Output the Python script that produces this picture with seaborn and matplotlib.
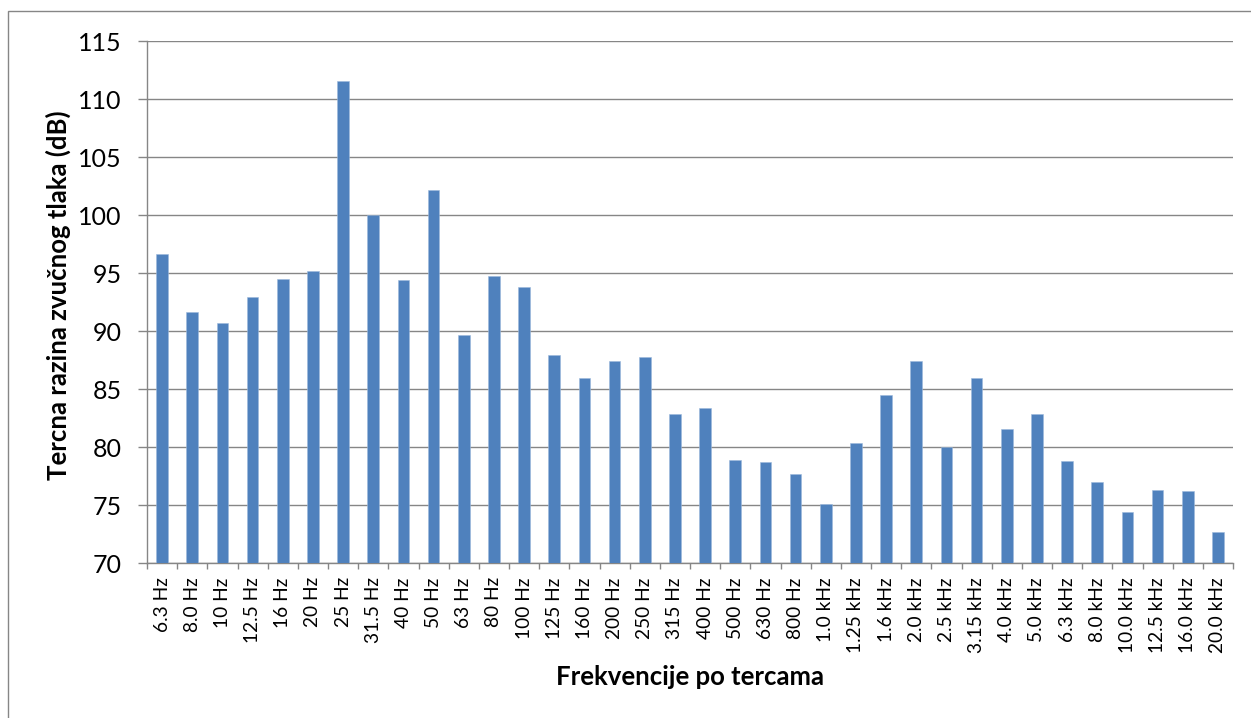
import matplotlib
matplotlib.use("Agg")
import matplotlib.pyplot as plt
import matplotlib.patches as mpatches
import seaborn as sns
import pandas as pd

categories = ["6.3 Hz", "8.0 Hz", "10 Hz", "12.5 Hz", "16 Hz", "20 Hz", "25 Hz", "31.5 Hz",
              "40 Hz", "50 Hz", "63 Hz", "80 Hz", "100 Hz", "125 Hz", "160 Hz", "200 Hz",
              "250 Hz", "315 Hz", "400 Hz", "500 Hz", "630 Hz", "800 Hz", "1.0 kHz", "1.25 kHz",
              "1.6 kHz", "2.0 kHz", "2.5 kHz", "3.15 kHz", "4.0 kHz", "5.0 kHz", "6.3 kHz",
              "8.0 kHz", "10.0 kHz", "12.5 kHz", "16.0 kHz", "20.0 kHz"]
levels = [96.7, 91.7, 90.7, 93.0, 94.5, 95.2, 111.6, 100.0,
          94.4, 102.2, 89.7, 94.8, 93.8, 88.0, 86.0, 87.4,
          87.8, 82.9, 83.4, 78.9, 78.7, 77.7, 75.1, 80.4,
          84.5, 87.4, 80.0, 86.0, 81.6, 82.9, 78.8,
          77.0, 74.4, 76.3, 76.2, 72.7]
y_ticks = [70, 75, 80, 85, 90, 95, 100, 105, 110, 115]
x_title = "Frekvencije po tercama"
y_title = "Tercna razina zvučnog tlaka (dB)"

df = pd.DataFrame({"freq": categories, "level": levels})

sns.set_theme(style="white")
plt.rcParams["font.family"] = ["Lato", "DejaVu Sans"]

W, H = 1251, 718
fig = plt.figure(figsize=(W / 100, H / 100), dpi=100)
ax = fig.add_axes([147 / W, 1 - 563.3 / H, (1233 - 147) / W, (563.3 - 41.3) / H])

sns.barplot(data=df, x="freq", y="level", color="#4F81BD", saturation=1,
            width=0.39, edgecolor="#9DB9DC", linewidth=0.4, ax=ax, zorder=3)

ax.set_ylim(70, 115)
ax.set_xlim(-0.5, len(categories) - 0.5)
ax.set_yticks(y_ticks)
ax.set_yticklabels([str(v) for v in y_ticks])
ax.yaxis.grid(True, color="#868686", linewidth=1.0, zorder=0)
ax.xaxis.grid(False)
ax.set_axisbelow(True)

for s in ["top", "right"]:
    ax.spines[s].set_visible(False)
for s in ["left", "bottom"]:
    ax.spines[s].set_color("#868686")
    ax.spines[s].set_linewidth(1.0)

ax.tick_params(axis="y", which="major", left=True, length=6.3, width=1.0,
               color="#868686", labelsize=18, pad=12, labelcolor="black")
ax.set_xticks(range(len(categories)))
ax.set_xticklabels(categories, rotation=90)
ax.tick_params(axis="x", which="major", bottom=True, length=0, labelsize=13.8,
               pad=10, labelcolor="black")
ax.set_xticks([i - 0.5 for i in range(len(categories) + 1)], minor=True)
ax.tick_params(axis="x", which="minor", bottom=True, length=4.5, width=1.0,
               color="#868686")

ax.set_xlabel(x_title, fontsize=18.5, fontweight="bold", color="black")
ax.set_ylabel(y_title, fontsize=18.5, fontweight="bold", color="black")
ax.xaxis.set_label_coords(0.5, (563.3 - 677) / 522)
ax.xaxis.label.set_va("center")
ax.yaxis.set_label_coords((58 - 147) / 1086, (563.3 - 295.5) / 522)
ax.yaxis.label.set_va("center")

border = mpatches.Rectangle((8 / W, -0.1), 1.2, 1 - 11 / H + 0.1,
                            transform=fig.transFigure, fill=False,
                            edgecolor="#868686", linewidth=1.0, clip_on=False)
fig.add_artist(border)

fig.savefig("out.png", dpi=100)
